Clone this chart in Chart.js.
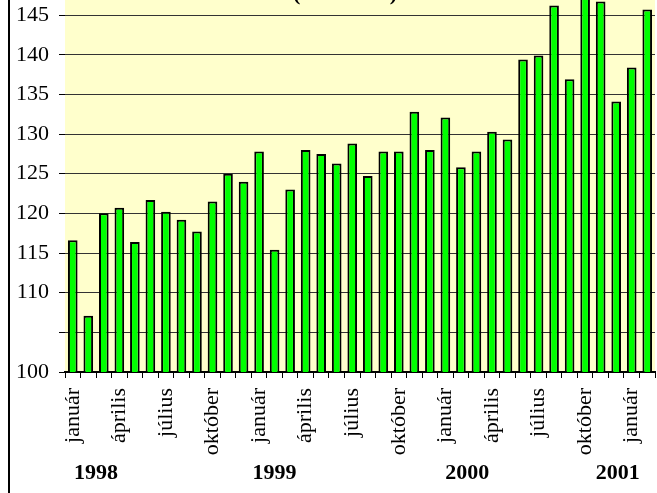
<!DOCTYPE html>
<html>
<head>
<meta charset="utf-8">
<script src="https://cdn.jsdelivr.net/npm/chart.js@4/dist/chart.umd.min.js"></script>
<style>
  body { margin: 0; background: #fff; }
  canvas { display: block; }
</style>
</head>
<body>
<canvas id="chart" width="657" height="493"></canvas>
<script>
const monthNames = ["január", "február", "március", "április", "május", "június",
  "július", "augusztus", "szeptember", "október", "november", "december"];
const years = ["1998", "1999", "2000", "2001"];
const monthsPerYear = [12, 12, 12, 2];

// index (1996=100), havonta
const values = [
  116.6, 107.1, 120.0, 120.7, 116.4, 121.7, 120.2, 119.2, 117.7, 121.5, 125.0, 124.0,
  127.8, 115.4, 123.0, 128.0, 127.5, 126.3, 128.8, 124.7, 127.8, 127.8, 132.8, 128.0,
  132.1, 125.8, 127.8, 130.3, 129.3, 139.4, 139.9, 146.2, 136.9, 148.5, 146.7, 134.1,
  138.4, 145.7
];

const categories = [];
monthsPerYear.forEach(n => {
  for (let i = 0; i < n; i++) categories.push(monthNames[i]);
});

// hol álljon az évszám (kategória-index)
const yearAt = [1.5, 13, 25.4, 35.1];

const serif = '"Liberation Serif", "Times New Roman", serif';

const extras = {
  id: "extras",
  beforeDraw(chart) {
    const { ctx, chartArea: a } = chart;
    ctx.save();
    ctx.fillStyle = "#FFFFCC";
    ctx.fillRect(a.left, a.top, a.right - a.left, a.bottom - a.top);
    ctx.restore();
  },
  afterDraw(chart) {
    const { ctx } = chart;
    const x = chart.scales.x;
    ctx.save();
    // keret bal oldala
    ctx.fillStyle = "#000";
    ctx.fillRect(8, 0, 2, 493);
    // levágott cím
    ctx.font = "bold 22px " + serif;
    ctx.textAlign = "center";
    ctx.textBaseline = "alphabetic";
    ctx.fillText("(1996=100)", 345, 0);
    // évszámok
    ctx.textBaseline = "middle";
    years.forEach((y, i) => {
      ctx.fillText(y, x.getPixelForValue(yearAt[i]), 473);
    });
    ctx.restore();
  }
};

new Chart(document.getElementById("chart"), {
  type: "bar",
  data: {
    labels: categories,
    datasets: [{
      data: values,
      backgroundColor: "#00FF00",
      borderColor: "#000",
      borderWidth: 2,
      barPercentage: 0.62,
      categoryPercentage: 1
    }]
  },
  options: {
    responsive: false,
    animation: false,
    devicePixelRatio: 1,
    layout: { padding: { left: 0, right: 2, top: 0, bottom: 0 } },
    plugins: {
      legend: { display: false },
      tooltip: { enabled: false }
    },
    scales: {
      x: {
        afterFit: s => {
          s.height = 121;
          s.paddingLeft = 0;
          s.paddingRight = 0;
        },
        grid: { drawOnChartArea: false, offset: true, tickLength: 6, color: "#000", lineWidth: 1 },
        border: { color: "#000", width: 2 },
        ticks: {
          autoSkip: false,
          maxRotation: 90,
          minRotation: 90,
          padding: 10,
          color: "#000",
          font: { family: serif, size: 22 },
          callback: (v, i) => i % 3 === 0 ? categories[i] : ""
        }
      },
      y: {
        min: 100,
        max: 146.9,
        afterFit: s => {
          s.width = 65;
          s.paddingTop = 0;
          s.paddingBottom = 0;
        },
        grid: { color: "#333", lineWidth: 1, tickLength: 6, tickColor: "#000" },
        border: { display: false },
        ticks: {
          stepSize: 5,
          includeBounds: false,
          padding: 10,
          color: "#000",
          font: { family: serif, size: 22 },
          callback: v => (Math.round(v) === 105 ? "" : Math.round(v))
        }
      }
    }
  },
  plugins: [extras]
});
</script>
</body>
</html>
